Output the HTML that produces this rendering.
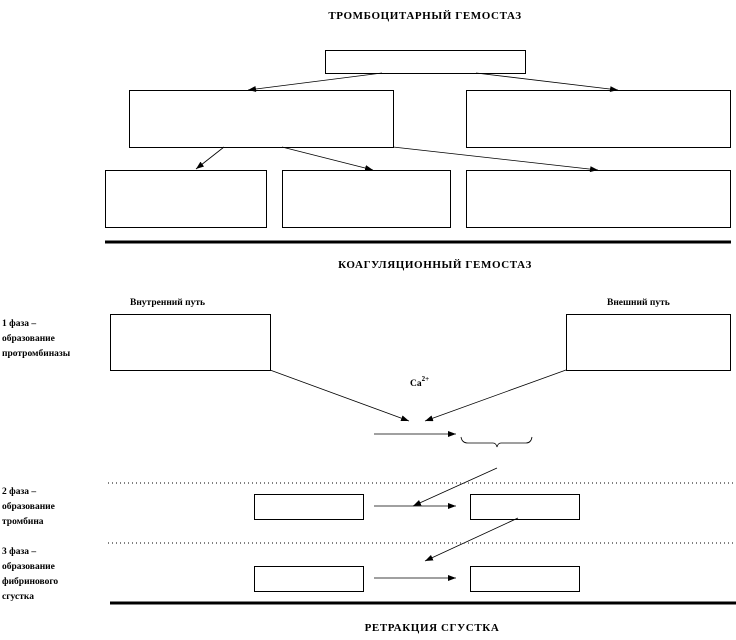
<!DOCTYPE html>
<html><head><meta charset="utf-8"><style>
html,body{margin:0;padding:0;background:#fff;}
svg{display:block}
text{font-family:"Liberation Serif",serif;font-weight:bold;fill:#000;}
</style></head><body>
<svg width="736" height="640" viewBox="0 0 736 640" xmlns="http://www.w3.org/2000/svg">
<defs><marker id="a" markerWidth="8" markerHeight="6" refX="8" refY="3" orient="auto" markerUnits="userSpaceOnUse"><path d="M0,0 L8,3 L0,6 Z" fill="#000"/></marker></defs>
<g font-size="11" letter-spacing="0.6">
<text x="425" y="19" text-anchor="middle">ТРОМБОЦИТАРНЫЙ  ГЕМОСТАЗ</text>
<text x="435" y="268" text-anchor="middle">КОАГУЛЯЦИОННЫЙ  ГЕМОСТАЗ</text>
<text x="432" y="631" text-anchor="middle">РЕТРАКЦИЯ  СГУСТКА</text>
</g>
<g fill="none" stroke="#000" stroke-width="1">
<rect x="325.5" y="50.5" width="200" height="23"/>
<rect x="129.5" y="90.5" width="264" height="57"/>
<rect x="466.5" y="90.5" width="264" height="57"/>
<rect x="105.5" y="170.5" width="161" height="57"/>
<rect x="282.5" y="170.5" width="168" height="57"/>
<rect x="466.5" y="170.5" width="264" height="57"/>
<rect x="110.5" y="314.5" width="160" height="56"/>
<rect x="566.5" y="314.5" width="164" height="56"/>
<rect x="254.5" y="494.5" width="109" height="25"/>
<rect x="470.5" y="494.5" width="109" height="25"/>
<rect x="254.5" y="566.5" width="109" height="25"/>
<rect x="470.5" y="566.5" width="109" height="25"/>
<g marker-end="url(#a)" stroke-width="0.8">
<line x1="382" y1="73" x2="248" y2="90"/>
<line x1="476" y1="73" x2="618" y2="90"/>
<line x1="224" y1="147" x2="196" y2="169"/>
<line x1="282" y1="147" x2="373" y2="170"/>
<line x1="393" y1="147" x2="598" y2="170"/>
<line x1="270" y1="370" x2="409" y2="421"/>
<line x1="566" y1="370" x2="425" y2="421"/>
<line x1="374" y1="434" x2="456" y2="434"/>
<line x1="497" y1="468" x2="413" y2="506"/>
<line x1="374" y1="506" x2="456" y2="506"/>
<line x1="518" y1="518" x2="425" y2="561"/>
<line x1="374" y1="578" x2="456" y2="578"/>
</g>
<path d="M461,437 Q462,443 468,443 L493,443 Q496,443 497,447 Q498,443 501,443 L526,443 Q531,443 532,437" stroke-width="0.8"/>
<line x1="105" y1="242" x2="731" y2="242" stroke-width="3"/>
<line x1="110" y1="603" x2="736" y2="603" stroke-width="3"/>
<line x1="108" y1="483" x2="736" y2="483" stroke-dasharray="1,3"/>
<line x1="108" y1="543" x2="736" y2="543" stroke-dasharray="1,3"/>
</g>
<g font-size="9.5">
<text x="130" y="305">Внутренний путь</text>
<text x="607" y="305">Внешний путь</text>
<text x="410" y="386">Ca<tspan font-size="7" dy="-5">2+</tspan></text>
<text x="2" y="326">1 фаза –</text>
<text x="2" y="341">образование</text>
<text x="2" y="356">протромбиназы</text>
<text x="2" y="494">2 фаза –</text>
<text x="2" y="509">образование</text>
<text x="2" y="524">тромбина</text>
<text x="2" y="554">3 фаза –</text>
<text x="2" y="569">образование</text>
<text x="2" y="584">фибринового</text>
<text x="2" y="599">сгустка</text>
</g>
</svg>
</body></html>
